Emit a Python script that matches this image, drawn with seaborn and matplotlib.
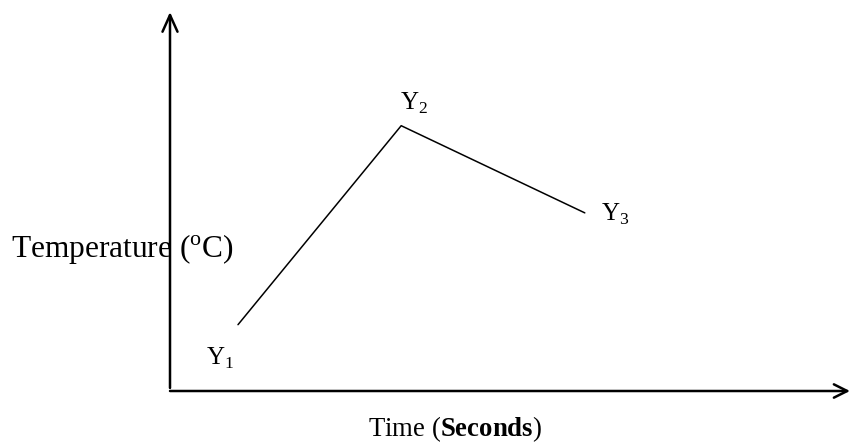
import matplotlib
matplotlib.use("Agg")
import matplotlib.pyplot as plt
import seaborn as sns

# points of the curve (axis units 0-10)
time_s = [1.0, 3.4, 6.1]
temp_c = [1.75, 7.0, 4.7]
point_labels = [r"$\mathrm{Y}_{\mathrm{1}}$", r"$\mathrm{Y}_{\mathrm{2}}$", r"$\mathrm{Y}_{\mathrm{3}}$"]
label_offsets = [(-13, -24), (9, 16), (22, -1)]

sns.set_theme(style="white")
plt.rcParams["font.family"] = ["Liberation Serif", "DejaVu Serif"]
plt.rcParams["mathtext.fontset"] = "custom"
plt.rcParams["mathtext.rm"] = "Liberation Serif"
plt.rcParams["mathtext.bf"] = "Liberation Serif:bold"
plt.rcParams["text.color"] = "black"

fig = plt.figure(figsize=(8.51, 4.43), dpi=100)
ax = fig.add_axes([170 / 851, 52 / 443, 680 / 851, 379 / 443])
ax.set_xlim(0, 10)
ax.set_ylim(0, 10)

sns.lineplot(x=time_s, y=temp_c, sort=False, color="black", lw=1.1, ax=ax)

for x, y, lab, off in zip(time_s, temp_c, point_labels, label_offsets):
    ax.annotate(lab, (x, y), xytext=off, textcoords="offset points",
                ha="center", va="center", fontsize=18, color="black")

# arrowed axes instead of spines
for sp in ax.spines.values():
    sp.set_visible(False)
ax.set_xticks([])
ax.set_yticks([])
ax.annotate("", xy=(0, 1), xytext=(0, 0.008), xycoords="axes fraction",
            arrowprops=dict(arrowstyle="->,head_length=1.0,head_width=0.45",
                            lw=1.8, color="black", shrinkA=0, shrinkB=0,
                            mutation_scale=12))
ax.annotate("", xy=(1, 0), xytext=(0, 0), xycoords="axes fraction",
            arrowprops=dict(arrowstyle="->,head_length=0.8,head_width=0.4",
                            lw=1.8, color="black", shrinkA=0, shrinkB=0,
                            mutation_scale=12))

fig.text(11 / 851, 1 - 257 / 443, r"Temperature ($^{\mathrm{o}}$C)",
         ha="left", va="baseline", fontsize=22.6)
fig.text(368 / 851, 1 - 436 / 443, r"Time ($\mathbf{Seconds}$)",
         ha="left", va="baseline", fontsize=19.3)

plt.savefig("out.png", dpi=100)
plt.close()
